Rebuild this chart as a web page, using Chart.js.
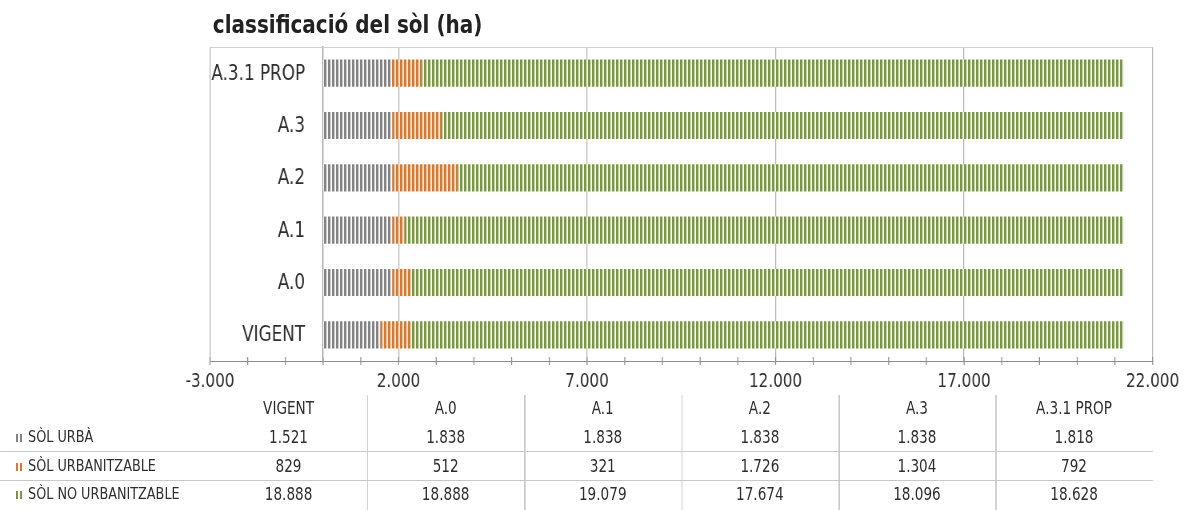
<!DOCTYPE html>
<html>
<head>
<meta charset="utf-8">
<script src="https://cdn.jsdelivr.net/npm/chart.js@4.4.0/dist/chart.umd.min.js"></script>
<style>
  html, body { margin: 0; padding: 0; background: #fff; overflow: hidden; }
  /* the whole sheet is laid out 1484px wide and compressed horizontally */
  #page { position: absolute; left: 0; top: 0; width: 1484px; height: 510px;
          transform: scaleX(0.8); transform-origin: 0 0;
          font-family: 'DejaVu Sans', sans-serif; color: #333; }
  #title { position: absolute; left: 266px; top: 10px; font-size: 25px; font-weight: bold;
           line-height: 29px; color: #222; white-space: nowrap; }
  #c { position: absolute; left: 0; top: 0; }
  .cell { position: absolute; white-space: nowrap; font-size: 17px; line-height: 20px; text-align: center; color: #2e2e2e; }
  .rowlabel { position: absolute; white-space: nowrap; font-size: 16px; line-height: 20px; left: 35px; color: #2e2e2e; }
  .key { position: absolute; left: 20px; width: 9px; height: 8px; }
  .hline { position: absolute; left: 0; height: 1px; background: #c8c8c8; }
  .vline { position: absolute; top: 395px; height: 115px; width: 1.5px; background: #c8c8c8; }
</style>
</head>
<body>
<div id="page">
  <div id="title">classificació del sòl (ha)</div>
  <canvas id="c" width="1484" height="395"></canvas>
  <div id="table"></div>
</div>
<script>
// scenarios, in table order (VIGENT sits at the bottom of the bar chart)
const categories = ['VIGENT', 'A.0', 'A.1', 'A.2', 'A.3', 'A.3.1 PROP'];

// surface per land class, hectares
const solUrba = [1521, 1838, 1838, 1838, 1838, 1818];
const solUrbanitzable = [829, 512, 321, 1726, 1304, 792];
const solNoUrbanitzable = [18888, 18888, 19079, 17674, 18096, 18628];

const seriesNames = ['SÒL URBÀ', 'SÒL URBANITZABLE', 'SÒL NO URBANITZABLE'];
const xTickValues = [-3000, 2000, 7000, 12000, 17000, 22000];

const seriesData = [solUrba, solUrbanitzable, solNoUrbanitzable];
const stripeColors = [
  { dark: '#838383', pale: '#f7f7f7' },
  { dark: '#df7628', pale: '#fcebdc' },
  { dark: '#7a9842', pale: '#f1f5e6' }
];

const FONT = "'DejaVu Sans', sans-serif";

function fmt(v) {
  const s = Math.abs(v).toString().replace(/\B(?=(\d{3})+(?!\d))/g, '.');
  return (v < 0 ? '-' : '') + s;
}

// vertical stripe fill
function stripePattern(c) {
  const t = document.createElement('canvas');
  t.width = 5; t.height = 4;
  const g = t.getContext('2d');
  g.fillStyle = c.pale; g.fillRect(0, 0, 5, 4);
  g.fillStyle = c.dark; g.fillRect(0, 0, 3, 4);
  return g.createPattern(t, 'repeat');
}

const frameAndLabels = {
  id: 'frameAndLabels',
  afterDraw(chart) {
    const { ctx, chartArea: a, scales: { x, y } } = chart;
    ctx.save();
    // top edge of the plot frame
    ctx.strokeStyle = '#d0d0d0';
    ctx.lineWidth = 1;
    ctx.beginPath();
    ctx.moveTo(a.left, a.top + 0.5);
    ctx.lineTo(a.right, a.top + 0.5);
    ctx.stroke();
    // major and minor tick marks crossing the value axis
    ctx.strokeStyle = '#8c8c8c';
    ctx.lineWidth = 1.25;
    for (let v = x.min; v <= x.max; v += 1000) {
      const px = x.getPixelForValue(v);
      ctx.beginPath();
      ctx.moveTo(px, a.bottom - 4);
      ctx.lineTo(px, a.bottom + 4);
      ctx.stroke();
    }
    // category names, right-aligned against the axis at zero
    const x0 = x.getPixelForValue(0);
    ctx.fillStyle = '#2e2e2e';
    ctx.font = '21px ' + FONT;
    ctx.textAlign = 'right';
    ctx.textBaseline = 'middle';
    chart.data.labels.forEach((lab, i) => {
      ctx.fillText(lab, x0 - 22.5, y.getPixelForValue(i) + 1);
    });
    ctx.restore();
  }
};

const chart = new Chart(document.getElementById('c'), {
  type: 'bar',
  data: {
    labels: categories,
    datasets: seriesData.map((d, i) => ({
      label: seriesNames[i],
      data: d,
      backgroundColor: stripePattern(stripeColors[i]),
      borderWidth: 0,
      barPercentage: 0.52,
      categoryPercentage: 1
    }))
  },
  options: {
    indexAxis: 'y',
    responsive: false,
    devicePixelRatio: 1,
    animation: false,
    layout: { padding: { left: 262.5, right: 40.25, top: 47, bottom: 0 } },
    plugins: { legend: { display: false }, title: { display: false }, tooltip: { enabled: false } },
    scales: {
      x: {
        type: 'linear',
        stacked: true,
        min: -3000,
        max: 22000,
        afterBuildTicks: (s) => { s.ticks = xTickValues.map(v => ({ value: v })); },
        afterFit: (s) => { s.height = 34; },
        grid: { color: '#b3b3b3', lineWidth: 1.25, drawTicks: false },
        border: { display: true, color: '#8c8c8c', width: 1 },
        ticks: { font: { family: FONT, size: 19 }, color: '#2e2e2e', padding: 10, callback: (v) => fmt(v) }
      },
      y: {
        type: 'category',
        stacked: true,
        reverse: true,
        position: { x: 0 },
        grid: { drawOnChartArea: false, drawTicks: false },
        border: { display: true, color: '#8c8c8c', width: 1.25 },
        ticks: { display: false }
      }
    }
  },
  plugins: [frameAndLabels]
});

// data table under the axis, one column per scenario across the plot width
(function buildTable() {
  const a = chart.chartArea;
  const colW = (a.right - a.left) / categories.length;
  const box = document.getElementById('table');
  const add = (cls, text, style) => {
    const el = document.createElement('div');
    el.className = cls;
    if (text !== null) el.textContent = text;
    Object.assign(el.style, style);
    box.appendChild(el);
    return el;
  };
  const rowTops = [398, 427, 456, 484];
  categories.forEach((c, i) => {
    add('cell', c, { left: (a.left + i * colW) + 'px', width: colW + 'px', top: rowTops[0] + 'px' });
  });
  seriesData.forEach((vals, r) => {
    const top = rowTops[r + 1];
    add('rowlabel', seriesNames[r], { top: top + 'px' });
    const col = stripeColors[r].dark;
    add('key', null, { top: (top + 7) + 'px',
      background: `linear-gradient(to right, ${col} 0 2.5px, transparent 2.5px 5px, ${col} 5px 7.5px, transparent 7.5px)` });
    vals.forEach((v, i) => {
      add('cell', fmt(v), { left: (a.left + i * colW) + 'px', width: colW + 'px', top: top + 'px' });
    });
  });
  [451, 480].forEach(yy => add('hline', null, { top: yy + 'px', width: a.right + 'px' }));
  for (let i = 1; i < categories.length; i++) {
    add('vline', null, { left: (a.left + i * colW) + 'px' });
  }
})();
</script>
</body>
</html>
